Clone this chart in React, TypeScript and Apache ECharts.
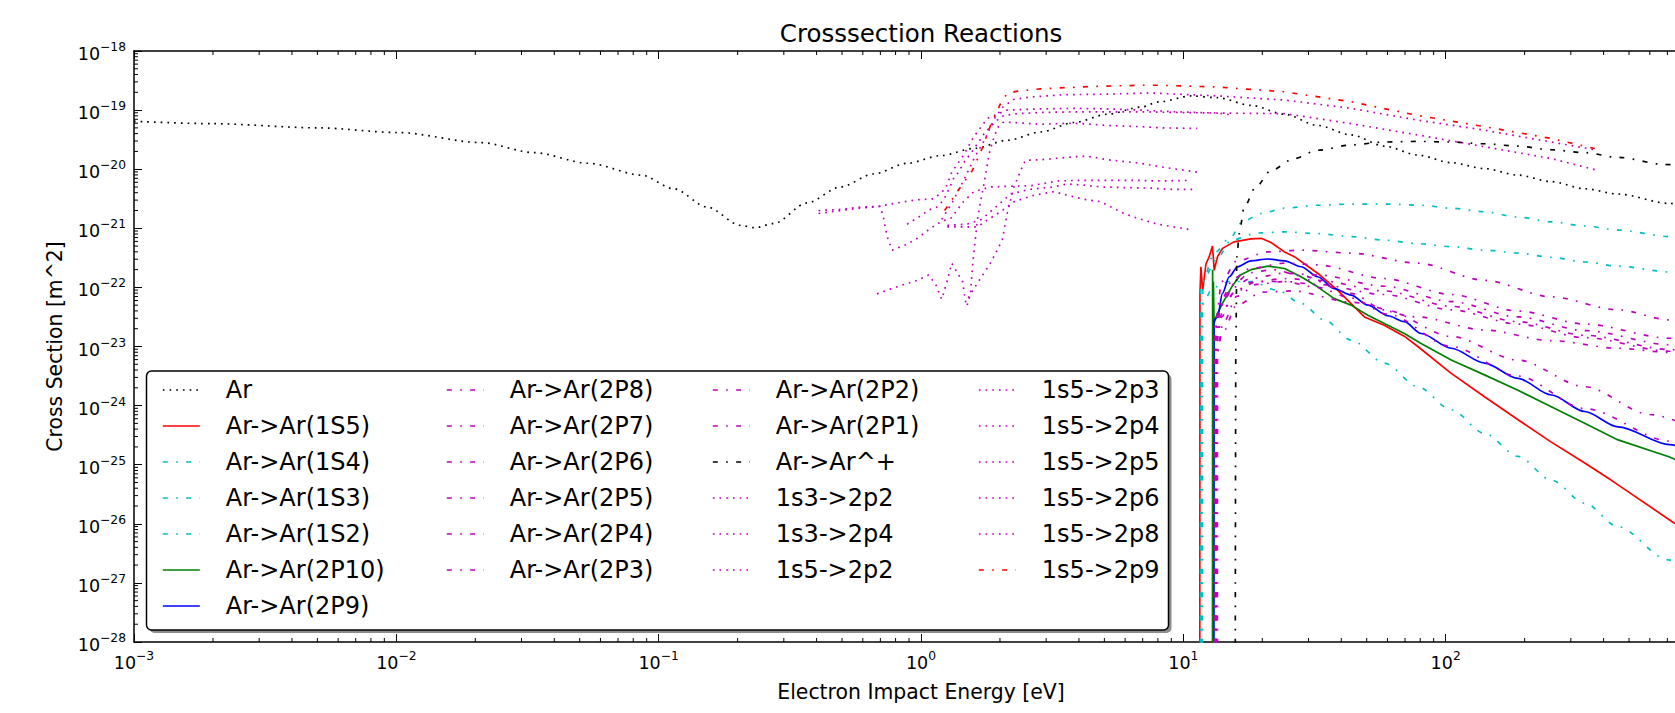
import React, { useEffect, useRef } from 'react';
import * as echarts from 'echarts';

// Each point: [electron energy in eV, log10 of cross section in m^2]
type Pt = [number, number];

const AR: Pt[] = [[0.001,-19.19],[0.002,-19.23],[0.005,-19.30],[0.0102,-19.38],[0.021,-19.55],[0.0335,-19.72],[0.054,-19.90],[0.086,-20.10],[0.114,-20.33],[0.153,-20.64],[0.205,-20.95],[0.233,-20.99],[0.274,-20.92],[0.368,-20.57],[0.493,-20.30],[0.66,-20.08],[0.885,-19.90],[1.19,-19.77],[1.59,-19.65],[2.14,-19.51],[2.86,-19.37],[3.83,-19.21],[5.14,-19.07],[6.88,-18.95],[8.1,-18.86],[10.7,-18.76],[13.5,-18.79],[18.1,-18.92],[24.3,-19.07],[32.5,-19.26],[43.6,-19.42],[58.4,-19.61],[78.3,-19.76],[105,-19.89],[140.6,-19.99],[188.6,-20.10],[252.7,-20.21],[338.7,-20.33],[454,-20.42],[714,-20.58],[1000,-20.65]];

const AR_1S5: Pt[] = [[11.55,-30],[11.57,-22.1],[11.67,-21.65],[11.85,-22.05],[12.2,-21.6],[12.55,-21.48],[12.92,-21.30],[13.11,-21.71],[13.5,-21.48],[14.1,-21.34],[15.6,-21.23],[18.1,-21.18],[19.8,-21.17],[21.6,-21.24],[24.3,-21.40],[26.5,-21.48],[32.5,-21.76],[38.8,-22.05],[49,-22.50],[58.3,-22.64],[69.7,-22.83],[78.3,-23.0],[104.7,-23.45],[140.6,-23.85],[188.8,-24.24],[251,-24.61],[339,-24.97],[427,-25.26],[728,-25.96],[1000,-26.36]];

const AR_1S4: Pt[] = [[11.62,-30],[11.65,-21.95],[13.5,-21.5],[15.2,-21.2],[19.2,-21.08],[24.3,-21.06],[32.5,-21.09],[43.6,-21.14],[58.3,-21.2],[78.3,-21.26],[105,-21.31],[140.6,-21.37],[188.6,-21.42],[252.7,-21.49],[338.7,-21.57],[454,-21.64],[714,-21.74],[1000,-21.82]];

const AR_1S3: Pt[] = [[11.72,-30],[11.75,-22.3],[13,-22.0],[15,-21.9],[18.1,-21.9],[22.9,-22.05],[28.1,-22.27],[34.5,-22.55],[43.6,-22.89],[58.4,-23.28],[78.3,-23.68],[105,-24.07],[140.6,-24.47],[188.6,-24.86],[252.7,-25.26],[338.7,-25.65],[454,-26.05],[705,-26.61],[1000,-27.07]];

const AR_1S2: Pt[] = [[11.83,-30],[11.85,-21.9],[13.1,-21.42],[15.2,-21.14],[16.8,-20.89],[19.8,-20.75],[24.3,-20.66],[32.5,-20.61],[43.6,-20.59],[60.2,-20.59],[80.6,-20.61],[105,-20.66],[140.6,-20.72],[188.6,-20.81],[252.7,-20.89],[338.7,-20.96],[454,-21.03],[714,-21.14],[1000,-21.22]];

const AR_2P10: Pt[] = [[12.91,-30],[12.93,-21.7],[12.97,-22.8],[13.02,-21.9],[13.1,-22.6],[13.5,-22.44],[14.1,-22.27],[15.3,-21.99],[16.5,-21.79],[18.1,-21.70],[21,-21.64],[24.3,-21.68],[28.1,-21.82],[32.5,-21.99],[37.6,-22.19],[43.6,-22.30],[50.5,-22.47],[60.2,-22.64],[69.6,-22.78],[80.6,-22.95],[105,-23.23],[140.6,-23.48],[188.6,-23.74],[252.7,-24.02],[338.7,-24.30],[454,-24.58],[714,-24.87],[1000,-25.15]];

const AR_2P9: Pt[] = [[13.08,-30],[13.1,-22.55],[13.5,-22.50],[14.1,-22.10],[14.96,-21.82],[16.1,-21.65],[18.1,-21.55],[20.96,-21.52],[24.3,-21.55],[28.1,-21.65],[32.5,-21.82],[37.6,-22.02],[43.6,-22.13],[50.5,-22.30],[60.2,-22.48],[69.6,-22.58],[80.6,-22.78],[105,-23.03],[140.6,-23.28],[188.6,-23.54],[252.7,-23.82],[338.7,-24.10],[454,-24.36],[714,-24.66],[1000,-24.93]];

const AR_2P8: Pt[] = [[13.09,-30],[13.12,-22.9],[14,-22.3],[15.5,-22.0],[18,-21.85],[24.3,-21.76],[32.5,-21.79],[58.3,-21.98],[105,-22.24],[188.6,-22.5],[338.7,-22.73],[714,-22.97],[1000,-23.08]];
const AR_2P7: Pt[] = [[13.15,-30],[13.18,-22.8],[14,-22.25],[15.5,-21.95],[18,-21.75],[22,-21.70],[28,-21.8],[43.6,-22.1],[58.4,-22.38],[105,-22.83],[188.6,-23.23],[338.7,-23.68],[600,-24.15],[1000,-24.5]];
const AR_2P6: Pt[] = [[13.17,-30],[13.2,-22.6],[14,-22.2],[15.5,-21.85],[18,-21.68],[24.3,-21.59],[32.5,-21.62],[58.3,-21.85],[105,-22.12],[188.6,-22.4],[338.7,-22.62],[714,-22.86],[1000,-22.97]];
const AR_2P5: Pt[] = [[13.27,-30],[13.3,-23.0],[14,-22.5],[15.5,-22.1],[18,-21.92],[24.3,-21.85],[32.5,-21.88],[58.3,-22.06],[105,-22.32],[188.6,-22.58],[338.7,-22.81],[714,-23.05],[1000,-23.16]];
const AR_2P4: Pt[] = [[13.28,-30],[13.32,-22.9],[14,-22.45],[15.5,-22.1],[19,-21.9],[24,-21.9],[32.5,-22.0],[43.6,-22.18],[60,-22.45],[105,-23.0],[188.6,-23.5],[338.7,-24.05],[714,-24.6],[1000,-24.85]];
const AR_2P3: Pt[] = [[13.30,-30],[13.34,-23.2],[14,-22.8],[16,-22.3],[20,-22.08],[26,-22.06],[43.6,-22.25],[78,-22.5],[140,-22.72],[252,-22.9],[454,-23.03],[714,-23.1],[1000,-23.18]];
const AR_2P2: Pt[] = [[13.33,-30],[13.36,-22.5],[14,-21.9],[16,-21.55],[21,-21.40],[28.1,-21.37],[43.6,-21.42],[78.3,-21.59],[140.6,-21.88],[252.7,-22.16],[454,-22.38],[714,-22.55],[1000,-22.68]];
const AR_2P1: Pt[] = [[13.48,-30],[13.5,-23.0],[14.2,-22.6],[16,-22.15],[19,-21.95],[24.3,-21.9],[32.5,-21.95],[58.3,-22.12],[105,-22.38],[188.6,-22.62],[338.7,-22.85],[714,-23.08],[1000,-23.2]];

const AR_ION: Pt[] = [[15.76,-30],[15.85,-23.0],[16.0,-21.48],[16.33,-21.09],[17.06,-20.64],[18.9,-20.30],[21.6,-20.02],[26.5,-19.82],[32.5,-19.68],[43.6,-19.59],[58.3,-19.54],[78.3,-19.53],[104.7,-19.54],[140.6,-19.57],[188.8,-19.61],[251,-19.67],[339,-19.72],[454,-19.80],[684,-19.92],[1000,-19.97]];

const S13_2P2: Pt[] = [[0.407,-20.70],[0.493,-20.68],[0.587,-20.64],[0.70,-20.63],[0.72,-20.83],[0.743,-21.14],[0.776,-21.37],[0.873,-21.28],[0.968,-21.17],[1.087,-21.0],[1.19,-20.89],[1.30,-20.83],[1.45,-20.55],[1.59,-20.38],[1.84,-20.30],[2.13,-20.29],[2.62,-20.28],[2.86,-20.25],[3.31,-20.2],[3.83,-20.19],[5.14,-20.19],[6.88,-20.19],[8.2,-20.2],[10.5,-20.19]];
const S13_2P4: Pt[] = [[0.68,-22.11],[0.81,-21.99],[0.967,-21.88],[1.07,-21.79],[1.14,-21.96],[1.20,-22.2],[1.26,-21.88],[1.31,-21.59],[1.37,-21.74],[1.44,-21.9],[1.48,-22.25],[1.64,-21.93],[1.84,-21.59],[2.04,-21.20],[2.13,-20.75],[2.26,-20.30],[2.40,-20.02],[2.50,-19.85],[2.86,-19.84],[3.83,-19.79],[4.3,-19.78],[5.14,-19.84],[6.88,-19.9],[8.2,-19.96],[11.3,-20.05]];
const S15_2P2: Pt[] = [[1.26,-20.975],[1.64,-20.975],[1.79,-20.86],[2.01,-20.72],[2.26,-20.55],[2.70,-20.44],[3.21,-20.38],[3.61,-20.44],[4.18,-20.51],[4.84,-20.55],[5.94,-20.75],[6.68,-20.83],[7.97,-20.93],[10.5,-21.02]];
const S15_2P3: Pt[] = [[1.50,-22.3],[1.545,-22.10],[1.57,-21.65],[1.60,-21.31],[1.64,-20.86],[1.69,-20.52],[1.74,-20.24],[1.82,-19.73],[1.90,-19.45],[1.98,-19.26],[2.07,-19.2],[2.86,-19.24],[3.83,-19.22],[5.14,-19.26],[6.88,-19.28],[8.2,-19.3],[11.3,-19.31]];
const S15_2P4: Pt[] = [[0.407,-20.75],[0.493,-20.70],[0.587,-20.66],[0.69,-20.63],[0.787,-20.58],[0.953,-20.52],[1.12,-20.50],[1.24,-20.33],[1.31,-20.05],[1.44,-19.79],[1.59,-19.45],[1.79,-19.14],[2.13,-19.0],[2.86,-18.98],[3.83,-18.97],[5.14,-18.98],[6.88,-19.0],[9.5,-19.03],[13.5,-19.05],[15.2,-19.08]];
const S15_2P5: Pt[] = [[1.26,-20.95],[1.50,-20.93],[1.70,-20.85],[1.95,-20.62],[2.2,-20.42],[2.6,-20.34],[3.2,-20.30],[3.6,-20.25],[4.18,-20.27],[4.84,-20.30],[5.77,-20.31],[7.52,-20.32],[8.7,-20.34],[11.3,-20.34]];
const S15_2P6: Pt[] = [[0.885,-20.93],[0.98,-20.81],[1.07,-20.69],[1.15,-20.64],[1.22,-20.52],[1.28,-20.33],[1.33,-20.16],[1.39,-20.05],[1.46,-19.88],[1.55,-19.73],[1.64,-19.57],[1.74,-19.40],[1.84,-19.28],[1.95,-19.17],[2.07,-19.09],[2.33,-19.06],[2.86,-19.04],[3.83,-19.03],[5.14,-19.03],[6.88,-19.03],[9.5,-19.04],[13.5,-19.05],[24.3,-19.06],[43.6,-19.23],[78.3,-19.42],[140.6,-19.62],[252.7,-19.82],[380,-20.02]];
const S15_2P8: Pt[] = [[1.20,-20.85],[1.32,-20.55],[1.45,-20.2],[1.60,-19.8],[1.75,-19.5],[1.90,-19.15],[2.05,-18.95],[2.25,-18.82],[2.6,-18.78],[3.5,-18.74],[5.1,-18.73],[7.5,-18.71],[13.5,-18.76],[24.3,-18.83],[43.6,-18.97],[78.3,-19.17],[140.6,-19.34],[252.7,-19.54],[380,-19.68]];
const S15_2P9: Pt[] = [[1.23,-20.7],[1.39,-20.35],[1.57,-20.02],[1.71,-19.65],[1.84,-19.26],[2.01,-18.89],[2.13,-18.72],[2.33,-18.68],[2.86,-18.64],[4.43,-18.60],[6.88,-18.58],[8.2,-18.58],[13.5,-18.61],[24.3,-18.69],[43.6,-18.86],[78.3,-19.09],[140.6,-19.28],[252.7,-19.48],[370,-19.65]];

const LEGEND_COL_1 = ['Ar', 'Ar->Ar(1S5)', 'Ar->Ar(1S4)', 'Ar->Ar(1S3)', 'Ar->Ar(1S2)', 'Ar->Ar(2P10)', 'Ar->Ar(2P9)'];
const LEGEND_COL_2 = ['Ar->Ar(2P8)', 'Ar->Ar(2P7)', 'Ar->Ar(2P6)', 'Ar->Ar(2P5)', 'Ar->Ar(2P4)', 'Ar->Ar(2P3)'];
const LEGEND_COL_3 = ['Ar->Ar(2P2)', 'Ar->Ar(2P1)', 'Ar->Ar^+', '1s3->2p2', '1s3->2p4', '1s5->2p2'];
const LEGEND_COL_4 = ['1s5->2p3', '1s5->2p4', '1s5->2p5', '1s5->2p6', '1s5->2p8', '1s5->2p9'];

// axis ranges as decade exponents
const X_EXP_MIN = -3, X_EXP_MAX = 3;
const Y_EXP_MIN = -28, Y_EXP_MAX = -18;
// Cross sections are plotted in units of 1e-28 m^2 so the log scale never has to
// round numbers as tiny as 1e-22; the tick labels give the value back in m^2.
const Y_UNIT_EXP = -28;

const FONT = "'DejaVu Sans', 'Liberation Sans', sans-serif";
const K = '#000000', R = '#ff0000', C = '#00bfbf', G = '#008000', B = '#0000ff', M = '#bf00bf';
const DOT = [1.7, 5];
const DASHDOT = [5, 8.3, 1.7, 8.3];

type Def = { name: string; data: Pt[]; color: string; dash: any; smooth: boolean };
const DEFS: Def[] = [
  { name: 'Ar', data: AR, color: K, dash: DOT, smooth: true },
  { name: 'Ar->Ar(1S5)', data: AR_1S5, color: R, dash: 'solid', smooth: false },
  { name: 'Ar->Ar(1S4)', data: AR_1S4, color: C, dash: DASHDOT, smooth: true },
  { name: 'Ar->Ar(1S3)', data: AR_1S3, color: C, dash: DASHDOT, smooth: true },
  { name: 'Ar->Ar(1S2)', data: AR_1S2, color: C, dash: DASHDOT, smooth: true },
  { name: 'Ar->Ar(2P10)', data: AR_2P10, color: G, dash: 'solid', smooth: false },
  { name: 'Ar->Ar(2P9)', data: AR_2P9, color: B, dash: 'solid', smooth: true },
  { name: 'Ar->Ar(2P8)', data: AR_2P8, color: M, dash: DASHDOT, smooth: true },
  { name: 'Ar->Ar(2P7)', data: AR_2P7, color: M, dash: DASHDOT, smooth: true },
  { name: 'Ar->Ar(2P6)', data: AR_2P6, color: M, dash: DASHDOT, smooth: true },
  { name: 'Ar->Ar(2P5)', data: AR_2P5, color: M, dash: DASHDOT, smooth: true },
  { name: 'Ar->Ar(2P4)', data: AR_2P4, color: M, dash: DASHDOT, smooth: true },
  { name: 'Ar->Ar(2P3)', data: AR_2P3, color: M, dash: DASHDOT, smooth: true },
  { name: 'Ar->Ar(2P2)', data: AR_2P2, color: M, dash: DASHDOT, smooth: true },
  { name: 'Ar->Ar(2P1)', data: AR_2P1, color: M, dash: DASHDOT, smooth: true },
  { name: 'Ar->Ar^+', data: AR_ION, color: K, dash: DASHDOT, smooth: true },
  { name: '1s3->2p2', data: S13_2P2, color: M, dash: DOT, smooth: false },
  { name: '1s3->2p4', data: S13_2P4, color: M, dash: DOT, smooth: false },
  { name: '1s5->2p2', data: S15_2P2, color: M, dash: DOT, smooth: false },
  { name: '1s5->2p3', data: S15_2P3, color: M, dash: DOT, smooth: false },
  { name: '1s5->2p4', data: S15_2P4, color: M, dash: DOT, smooth: false },
  { name: '1s5->2p5', data: S15_2P5, color: M, dash: DOT, smooth: false },
  { name: '1s5->2p6', data: S15_2P6, color: M, dash: DOT, smooth: false },
  { name: '1s5->2p8', data: S15_2P8, color: M, dash: DOT, smooth: false },
  { name: '1s5->2p9', data: S15_2P9, color: R, dash: DASHDOT, smooth: false },
];

function supLabel(e: number): string {
  return `{b|10}{s|${e < 0 ? '\u2212' + -e : e}}`;
}
const xLabel = (v: number) => supLabel(Math.round(Math.log10(v)));
const yLabel = (v: number) => supLabel(Math.round(Math.log10(v)) + Y_UNIT_EXP);

function buildOption(): any {
  const minorX: number[] = [];
  for (let e = X_EXP_MIN; e < X_EXP_MAX; e++) for (let k = 2; k <= 9; k++) minorX.push(k * Math.pow(10, e));
  const minorY: number[] = [];
  for (let e = Y_EXP_MIN; e < Y_EXP_MAX; e++) for (let k = 2; k <= 9; k++) minorY.push(k * Math.pow(10, e - Y_UNIT_EXP));
  // one major tick per decade
  const majorY: number[] = [];
  for (let e = Y_EXP_MIN; e <= Y_EXP_MAX; e++) majorY.push(Math.pow(10, e - Y_UNIT_EXP));
  const majorX: number[] = [];
  for (let e = X_EXP_MIN; e <= X_EXP_MAX; e++) majorX.push(Math.pow(10, e));
  const labelX = majorX.slice(0, majorX.length - 1);

  const rich = {
    b: { fontSize: 17.5, fontFamily: FONT, color: '#000', lineHeight: 26, verticalAlign: 'middle' },
    s: { fontSize: 12.3, fontFamily: FONT, color: '#000', lineHeight: 10, verticalAlign: 'top' },
  };

  const tickLine = { lineStyle: { color: '#000', width: 1 } };
  const axisLine = { show: true, onZero: false, lineStyle: { color: '#000', width: 1.5 } };

  const xBase = {
    type: 'log', logBase: 10, min: Math.pow(10, X_EXP_MIN), max: Math.pow(10, X_EXP_MAX), splitNumber: 6,
    axisLine, splitLine: { show: false }, minorTick: { show: false },
    axisTick: { show: true, inside: true, length: 8, customValues: majorX, ...tickLine },
  };
  const yBase = {
    type: 'log', logBase: 10,
    min: Math.pow(10, Y_EXP_MIN - Y_UNIT_EXP), max: Math.pow(10, Y_EXP_MAX - Y_UNIT_EXP), splitNumber: 10,
    axisLine, splitLine: { show: false }, minorTick: { show: false },
    axisTick: { show: true, inside: true, length: 8, customValues: majorY, ...tickLine },
  };

  const lineSeries = DEFS.map((d) => ({
    type: 'line',
    name: d.name,
    data: d.data.map(([e, l]) => [e, Math.pow(10, l - Y_UNIT_EXP)]),
    xAxisIndex: 0,
    yAxisIndex: 0,
    symbol: 'none',
    showSymbol: false,
    smooth: d.smooth ? 0.3 : false,
    smoothMonotone: 'x',
    silent: true,
    z: 2,
    lineStyle: { color: d.color, width: 1.67, type: d.dash },
    itemStyle: { color: d.color },
    emphasis: { disabled: true },
  }));

  const minorXSeries = {
    type: 'custom', silent: true, z: 3, clip: false,
    xAxisIndex: 0, yAxisIndex: 0,
    data: minorX.map((v) => [v, 1e5]),
    renderItem: (params: any, api: any) => {
      const cs = params.coordSys;
      const x = api.coord([api.value(0), 1e5])[0];
      const yb = cs.y + cs.height;
      return {
        type: 'group',
        children: [
          { type: 'line', shape: { x1: x, y1: yb, x2: x, y2: yb - 4 }, style: { stroke: '#000', lineWidth: 1 } },
          { type: 'line', shape: { x1: x, y1: cs.y, x2: x, y2: cs.y + 4 }, style: { stroke: '#000', lineWidth: 1 } },
        ],
      };
    },
  };
  const minorYSeries = {
    type: 'custom', silent: true, z: 3, clip: false,
    xAxisIndex: 0, yAxisIndex: 0,
    data: minorY.map((v) => [1, v]),
    renderItem: (params: any, api: any) => {
      const cs = params.coordSys;
      const y = api.coord([1, api.value(1)])[1];
      const xr = cs.x + cs.width;
      return {
        type: 'group',
        children: [
          { type: 'line', shape: { x1: cs.x, y1: y, x2: cs.x + 4, y2: y }, style: { stroke: '#000', lineWidth: 1 } },
          { type: 'line', shape: { x1: xr, y1: y, x2: xr - 4, y2: y }, style: { stroke: '#000', lineWidth: 1 } },
        ],
      };
    },
  };

  const legendCols = [LEGEND_COL_1, LEGEND_COL_2, LEGEND_COL_3, LEGEND_COL_4];
  const legendLeft = [162, 446, 712, 978];
  const legends = legendCols.map((names, i) => ({
    orient: 'vertical',
    left: legendLeft[i],
    top: 378,
    padding: 0,
    itemWidth: 37,
    itemHeight: 14,
    itemGap: 12,
    z: 10,
    selectedMode: false,
    itemStyle: { color: 'transparent', borderWidth: 0 },
    lineStyle: { width: 1.67 },
    textStyle: { fontSize: 24, lineHeight: 24, fontFamily: FONT, color: '#000', padding: [0, 0, 0, 21] },
    data: names,
  }));

  return {
    animation: false,
    backgroundColor: '#ffffff',
    textStyle: { fontFamily: FONT },
    title: {
      text: 'Crosssection Reactions',
      left: 'center',
      top: 19,
      padding: 0,
      textStyle: { fontFamily: FONT, fontSize: 24.5, fontWeight: 'normal', color: '#000', lineHeight: 28 },
    },
    grid: { left: 134, width: 1574, top: 51, height: 591, containLabel: false, outerBoundsMode: 'none' },
    xAxis: [
      {
        ...xBase,
        position: 'bottom',
        name: 'Electron Impact Energy [eV]',
        nameLocation: 'middle',
        nameGap: 38,
        nameTextStyle: { fontFamily: FONT, fontSize: 20.4, color: '#000', lineHeight: 24 },
        axisLabel: { show: true, margin: 8, formatter: xLabel, rich, customValues: labelX },
      },
      { ...xBase, position: 'top', axisLabel: { show: false } },
    ],
    yAxis: [
      {
        ...yBase,
        position: 'left',
        name: 'Cross Section [m^2]',
        nameLocation: 'middle',
        nameGap: 67,
        nameRotate: 90,
        nameTextStyle: { fontFamily: FONT, fontSize: 20.4, color: '#000', lineHeight: 24 },
        axisLabel: { show: true, margin: 8, formatter: yLabel, rich, padding: [6, 0, 0, 0], customValues: majorY },
      },
      { ...yBase, position: 'right', axisLabel: { show: false } },
    ],
    legend: legends,
    graphic: {
      elements: [
        { type: 'rect', z: 5, silent: true, shape: { x: 149.5, y: 374, width: 1022, height: 259, r: 5 }, style: { fill: '#8c8c8c', stroke: 'none' } },
        { type: 'rect', z: 6, silent: true, shape: { x: 146.5, y: 371, width: 1022, height: 259, r: 5 }, style: { fill: '#ffffff', stroke: '#000', lineWidth: 1.5 } },
      ],
    },
    series: [...lineSeries, minorXSeries, minorYSeries],
  };
}

export default function App() {
  const ref = useRef<HTMLDivElement>(null);
  useEffect(() => {
    if (!ref.current) return;
    const chart = echarts.init(ref.current, null, { renderer: 'svg' });
    chart.setOption(buildOption());
    return () => chart.dispose();
  }, []);
  return (
    <div style={{ position: 'fixed', left: 0, top: 0, width: 1675, height: 713, overflow: 'hidden', background: '#fff' }}>
      <div ref={ref} style={{ width: 1842, height: 713 }} />
    </div>
  );
}
